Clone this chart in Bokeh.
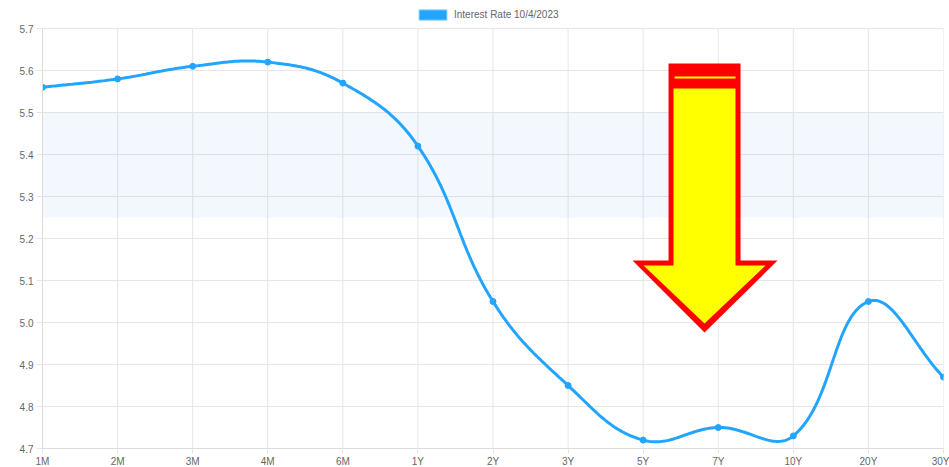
import numpy as np
from bokeh.plotting import figure
from bokeh.models import (Range1d, FixedTicker, PrintfTickFormatter, Legend, LegendItem,
                          BoxAnnotation)
from bokeh.embed import file_html
from bokeh.resources import INLINE

# ---- data ----
tenors = ["1M", "2M", "3M", "4M", "6M", "1Y", "2Y", "3Y", "5Y", "7Y", "10Y", "20Y", "30Y"]
rates = [5.56, 5.58, 5.61, 5.62, 5.57, 5.42, 5.05, 4.85, 4.72, 4.75, 4.73, 5.05, 4.87]
y_ticks = [4.7, 4.8, 4.9, 5.0, 5.1, 5.2, 5.3, 5.4, 5.5, 5.6, 5.7]
series_label = "Interest Rate 10/4/2023"
band_low, band_high = 5.25, 5.5

# arrow annotation (data units: x = tenor index, y = rate)
arrow_outer_x = [8.338, 9.297, 9.297, 9.790, 8.817, 7.858, 8.338]
arrow_outer_y = [5.6167, 5.6167, 5.1476, 5.1476, 4.9762, 5.1476, 5.1476]
arrow_inner_x = [8.404, 9.230, 9.230, 9.630, 8.817, 8.005, 8.404]
arrow_inner_y = [5.5571, 5.5571, 5.1357, 5.1357, 4.9976, 5.1357, 5.1357]
arrow_bar = dict(left=8.418, right=9.230, bottom=5.5810, top=5.5857)

BLUE = "#22a5ff"
GRID = "#e6e6e6"
TXT = "#666666"
FONT = "Liberation Sans"

FRAME_W = 901
PLOT_H = 420          # pixel height of the 4.7..5.7 value span
TOP_PAD = 28          # room above the value span for the legend
y0, y1 = y_ticks[0], y_ticks[-1]
y_top = y1 + TOP_PAD * (y1 - y0) / PLOT_H

xs = np.arange(len(tenors), dtype=float)
ys = np.array(rates, dtype=float)

# Chart.js-like spline (tension 0.4), distances in pixel space
sx = FRAME_W / (len(tenors) - 1)
sy = PLOT_H / (y1 - y0)
t = 0.4
n = len(xs)
cp_prev = np.zeros((n, 2))
cp_next = np.zeros((n, 2))
for i in range(n):
    a = max(i - 1, 0)
    b = min(i + 1, n - 1)
    d01 = np.hypot((xs[i] - xs[a]) * sx, (ys[i] - ys[a]) * sy)
    d12 = np.hypot((xs[b] - xs[i]) * sx, (ys[b] - ys[i]) * sy)
    tot = d01 + d12
    s01 = d01 / tot if tot else 0
    s12 = d12 / tot if tot else 0
    fa, fb = t * s01, t * s12
    dx, dy = xs[b] - xs[a], ys[b] - ys[a]
    cp_prev[i] = (xs[i] - fa * dx, ys[i] - fa * dy)
    cp_next[i] = (xs[i] + fb * dx, ys[i] + fb * dy)

lx, ly = [], []
u = np.linspace(0, 1, 40)
for i in range(n - 1):
    p0 = np.array([xs[i], ys[i]])
    p1 = cp_next[i]
    p2 = cp_prev[i + 1]
    p3 = np.array([xs[i + 1], ys[i + 1]])
    pts = ((1 - u) ** 3)[:, None] * p0 + (3 * (1 - u) ** 2 * u)[:, None] * p1 + \
          (3 * (1 - u) * u ** 2)[:, None] * p2 + (u ** 3)[:, None] * p3
    if i > 0:
        pts = pts[1:]
    lx.extend(pts[:, 0]); ly.extend(pts[:, 1])

p = figure(frame_width=FRAME_W, frame_height=PLOT_H + TOP_PAD, output_backend="svg",
           toolbar_location=None, x_range=Range1d(0, len(tenors) - 1),
           y_range=Range1d(y0, y_top),
           min_border_left=42, min_border_right=6, min_border_top=0, min_border_bottom=18)
p.outline_line_color = None
p.background_fill_color = "white"

band = BoxAnnotation(bottom=band_low, top=band_high, fill_color="#2b7fff", fill_alpha=0.055,
                     line_color=None, level="underlay")
p.add_layout(band)

# vertical grid lines limited to the value span
vg = p.segment(x0=xs, y0=[y0] * n, x1=xs, y1=[y1] * n, line_color=GRID, line_width=1)
vg.level = "underlay"

# arrow
p.patch(arrow_outer_x, arrow_outer_y, fill_color="#ff0000", line_color=None)
p.patch(arrow_inner_x, arrow_inner_y, fill_color="#ffff00", line_color=None)
p.quad(**{k: [v] for k, v in arrow_bar.items()}, fill_color="#ffff00", line_color=None)

p.line(lx, ly, line_color=BLUE, line_width=3)
p.scatter(xs, ys, size=6, fill_color=BLUE, line_color=BLUE)

# legend swatch renderer (placed outside the visible range; only its legend glyph shows)
dummy = p.quad(left=[-10], right=[-9], top=[5.0], bottom=[4.9], fill_color=BLUE,
               line_color="#9fd6ff", line_width=1)
legend = Legend(items=[LegendItem(label=series_label, renderers=[dummy])],
                location=(373, PLOT_H + TOP_PAD - 21), orientation="horizontal",
                padding=0, margin=0, border_line_alpha=0, background_fill_alpha=0,
                glyph_width=35, glyph_height=13, label_height=13, label_standoff=4,
                label_text_font=FONT, label_text_font_size="10px", label_text_color=TXT)
p.add_layout(legend, "center")

# axes
p.xaxis.ticker = FixedTicker(ticks=list(range(len(tenors))))
p.xaxis.major_label_overrides = {i: s for i, s in enumerate(tenors)}
p.yaxis.ticker = FixedTicker(ticks=y_ticks)
p.yaxis.formatter = PrintfTickFormatter(format="%.1f")
p.yaxis.bounds = (y0, y1)
for ax in (p.xaxis, p.yaxis):
    ax.axis_line_color = "#dcdcdc"
    ax.major_tick_line_color = GRID
    ax.minor_tick_line_color = None
    ax.major_tick_in = 0
    ax.major_label_text_font = FONT
    ax.major_label_text_font_size = "10px"
    ax.major_label_text_color = TXT
p.xaxis.major_tick_out = 5
p.xaxis.major_label_standoff = 2
p.yaxis.major_tick_out = 6
p.yaxis.major_label_standoff = 3

p.xgrid.visible = False
p.ygrid.grid_line_color = GRID
p.ygrid.ticker = p.yaxis.ticker

open("out.html", "w").write(file_html(p, INLINE))
